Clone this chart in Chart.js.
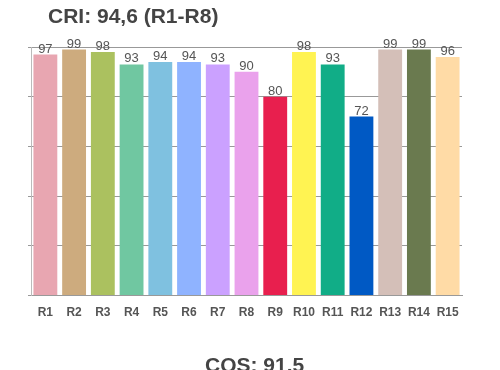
<!DOCTYPE html>
<html>
<head>
<meta charset="utf-8">
<script src="https://cdn.jsdelivr.net/npm/chart.js"></script>
<style>
  body { margin: 0; background: #fff; }
  #wrap { position: relative; width: 500px; height: 370px; overflow: hidden; }
  .head { position: absolute; font-family: "Liberation Sans", Arial, sans-serif; font-weight: bold; color: #444; white-space: nowrap; }
  #title { left: 48px; top: 4px; font-size: 21px; }
  #cqs { left: 205px; top: 353px; font-size: 21px; }
</style>
</head>
<body>
<div id="wrap">
  <canvas id="cri" width="500" height="370"></canvas>
  <div id="title" class="head">CRI: 94,6 (R1-R8)</div>
  <div id="cqs" class="head">CQS: 91.5</div>
</div>
<script>
const labels = ["R1", "R2", "R3", "R4", "R5", "R6", "R7", "R8", "R9", "R10", "R11", "R12", "R13", "R14", "R15"];
const values = [97, 99, 98, 93, 94, 94, 93, 90, 80, 98, 93, 72, 99, 99, 96];
const colors = ["#E8A6B1", "#CDAB7E", "#ABC15F", "#70C7A1", "#7FC1E0", "#8FB3FF", "#CBA1FF", "#EAA2EC",
                "#E81F4E", "#FFF352", "#11AD87", "#0059C4", "#D4BFB8", "#6A7A4F", "#FFDBA6"];

// value labels above each bar
const valueLabels = {
  id: "valueLabels",
  afterDatasetsDraw(chart) {
    const ctx = chart.ctx;
    const meta = chart.getDatasetMeta(0);
    ctx.save();
    ctx.font = "13px 'Liberation Sans', Arial, sans-serif";
    ctx.fillStyle = "#555";
    ctx.textAlign = "center";
    ctx.textBaseline = "bottom";
    meta.data.forEach((bar, i) => {
      ctx.fillText(values[i], bar.x, bar.y + 1);
    });
    ctx.restore();
  }
};

new Chart(document.getElementById("cri"), {
  type: "bar",
  data: {
    labels: labels,
    datasets: [{ data: values, backgroundColor: colors, borderWidth: 0,
                 barPercentage: 0.83, categoryPercentage: 1.0 }]
  },
  options: {
    responsive: false,
    animation: false,
    layout: { padding: { left: 28, right: 38, top: 47, bottom: 48 } },
    plugins: { legend: { display: false }, tooltip: { enabled: false } },
    scales: {
      x: {
        grid: { display: false },
        border: { display: true, color: "#999", width: 1 },
        ticks: { color: "#555", padding: 2,
                 font: { family: "'Liberation Sans', Arial, sans-serif", size: 12, weight: "bold" } }
      },
      y: {
        min: 0, max: 100,
        ticks: { display: false, stepSize: 20 },
        grid: { color: "#999", tickLength: 3, drawTicks: true },
        border: { display: true, color: "#bbb", width: 1 }
      }
    }
  },
  plugins: [valueLabels]
});
</script>
</body>
</html>
